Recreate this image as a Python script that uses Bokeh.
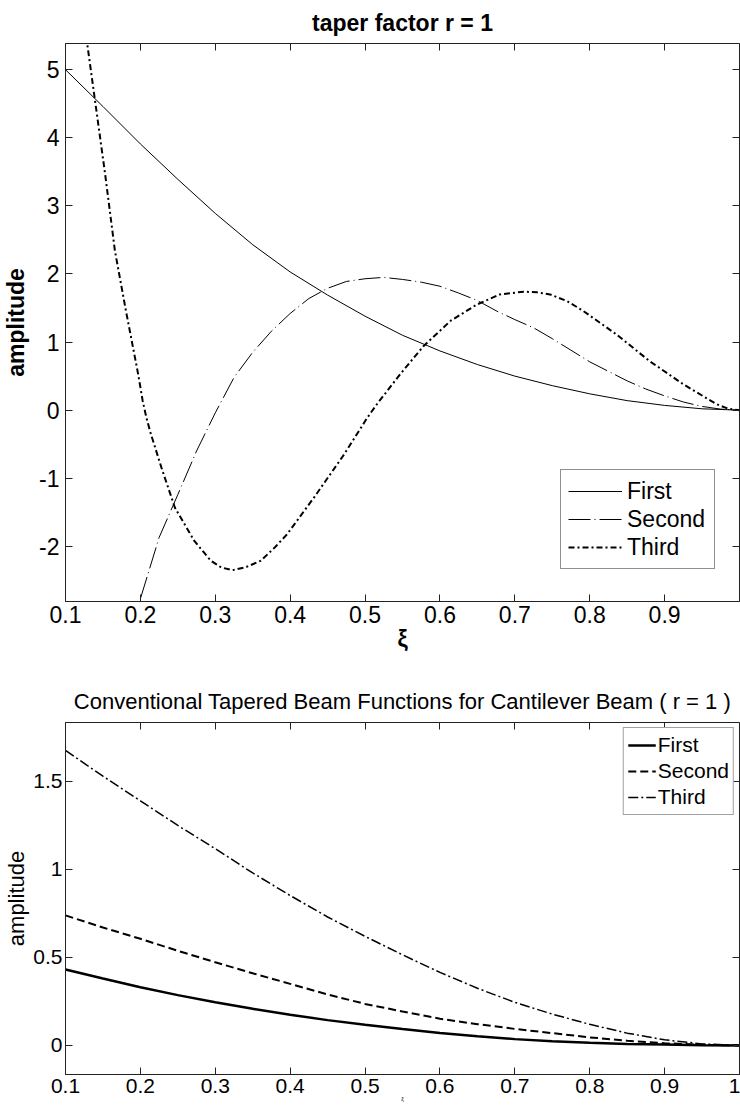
from bokeh.plotting import figure
from bokeh.models import (Range1d, LinearAxis, FixedTicker, CustomJSTickFormatter,
                          Legend, LegendItem)
from bokeh.layouts import column
from bokeh.embed import file_html
from bokeh.resources import INLINE

# ---------------- data: top chart (taper factor r = 1) ----------------
top_first_x = [0.1, 0.15, 0.2, 0.25, 0.3, 0.35, 0.4, 0.45, 0.5, 0.55, 0.6, 0.65,
               0.7, 0.75, 0.8, 0.85, 0.9, 0.95, 1.0]
top_first_y = [5.0, 4.46, 3.91, 3.39, 2.89, 2.43, 2.03, 1.69, 1.38, 1.10, 0.87, 0.67,
               0.50, 0.36, 0.24, 0.14, 0.07, 0.02, 0.0]

top_second_x = [0.19, 0.2, 0.225, 0.25, 0.275, 0.3, 0.325, 0.35, 0.375, 0.4, 0.425,
                0.45, 0.475, 0.5, 0.525, 0.55, 0.575, 0.6, 0.625, 0.65, 0.675, 0.7,
                0.725, 0.75, 0.775, 0.8, 0.825, 0.85, 0.875, 0.9, 0.925, 0.95, 0.975, 1.0]
top_second_y = [-3.2, -2.77, -1.87, -1.24, -0.60, -0.04, 0.48, 0.85, 1.16, 1.42, 1.64,
                1.79, 1.89, 1.93, 1.95, 1.92, 1.88, 1.82, 1.72, 1.61, 1.46, 1.33,
                1.21, 1.05, 0.88, 0.71, 0.57, 0.43, 0.31, 0.21, 0.12, 0.055, 0.015, 0.0]

top_third_x = [0.12, 0.129, 0.139, 0.153, 0.166, 0.18, 0.197, 0.203, 0.208, 0.214,
               0.228, 0.246, 0.272, 0.294, 0.308, 0.323, 0.34, 0.361, 0.38, 0.396,
               0.432, 0.472, 0.503, 0.516, 0.547, 0.578, 0.614, 0.649, 0.68, 0.712,
               0.73, 0.747, 0.77, 0.791, 0.836, 0.88, 0.925, 0.969, 0.985, 1.0]
top_third_y = [6.1, 5.38, 4.58, 3.46, 2.34, 1.50, 0.53, 0.14, -0.11, -0.35,
               -0.84, -1.43, -1.92, -2.21, -2.31, -2.35, -2.31, -2.21, -2.01, -1.82,
               -1.28, -0.65, -0.11, 0.09, 0.53, 0.94, 1.31, 1.55, 1.70, 1.74,
               1.73, 1.70, 1.60, 1.46, 1.11, 0.72, 0.38, 0.09, 0.02, 0.0]

top_xticks = [0.1, 0.2, 0.3, 0.4, 0.5, 0.6, 0.7, 0.8, 0.9]
top_yticks = [-2, -1, 0, 1, 2, 3, 4, 5]

# ---------------- data: bottom chart (conventional functions) ----------------
bot_x = [0.1, 0.15, 0.2, 0.25, 0.3, 0.35, 0.4, 0.45, 0.5, 0.55, 0.6, 0.65, 0.7,
         0.75, 0.8, 0.85, 0.9, 0.95, 1.0]
bot_first = [0.432, 0.38, 0.331, 0.286, 0.246, 0.208, 0.174, 0.144, 0.118, 0.093,
             0.071, 0.052, 0.036, 0.024, 0.015, 0.009, 0.005, 0.001, 0.0]
bot_second = [0.739, 0.67, 0.606, 0.538, 0.473, 0.41, 0.35, 0.29, 0.236, 0.193,
              0.152, 0.121, 0.094, 0.07, 0.046, 0.027, 0.013, 0.004, 0.0]
bot_third = [1.676, 1.53, 1.39, 1.25, 1.118, 0.98, 0.852, 0.73, 0.62, 0.515,
             0.415, 0.325, 0.245, 0.178, 0.12, 0.07, 0.032, 0.009, 0.0]

bot_xticks = [0.1, 0.2, 0.3, 0.4, 0.5, 0.6, 0.7, 0.8, 0.9, 1.0]
bot_yticks = [0, 0.5, 1, 1.5]

series_names = ["First", "Second", "Third"]

FONT = "Liberation Sans"
FRAME = "#222222"


def style_axis(ax, ticks, size, standoff, labels=True):
    ax.ticker = FixedTicker(ticks=ticks)
    ax.major_tick_in = 7
    ax.major_tick_out = 0
    ax.minor_tick_line_color = None
    ax.axis_line_color = FRAME
    ax.major_tick_line_color = FRAME
    ax.major_label_text_font = FONT
    ax.major_label_text_color = "black"
    if labels:
        ax.formatter = CustomJSTickFormatter(code="return String(Number(tick.toFixed(3)));")
        ax.major_label_text_font_size = size
        ax.major_label_standoff = standoff
    else:
        ax.formatter = CustomJSTickFormatter(code="return '';")
        ax.major_label_text_font_size = "0px"
        ax.major_label_standoff = 0


def mirror_axes(p, xticks, yticks, xmax, ymax):
    top = LinearAxis(fixed_location=ymax)
    style_axis(top, xticks, "0px", 0, labels=False)
    right = LinearAxis(fixed_location=xmax)
    style_axis(right, yticks, "0px", 0, labels=False)
    p.add_layout(top, "above")
    p.add_layout(right, "right")


# ================= top figure =================
T_XMIN, T_XMAX, T_YMIN, T_YMAX = 0.1, 1.0, -2.81, 5.385
p1 = figure(width=740, height=657, x_range=Range1d(T_XMIN, T_XMAX),
            y_range=Range1d(T_YMIN, T_YMAX),
            output_backend="svg", toolbar_location=None,
            min_border_left=64, min_border_right=1, min_border_top=42, min_border_bottom=56)
p1.grid.visible = False
p1.outline_line_color = FRAME
p1.title.text = "taper factor r = 1"
p1.title.align = "center"
p1.title.text_font = FONT
p1.title.text_font_size = "23px"
p1.title.text_font_style = "bold"
p1.title.text_color = "black"
p1.title.standoff = 15

style_axis(p1.xaxis[0], top_xticks, "23px", 4)
style_axis(p1.yaxis[0], top_yticks, "23px", 6)
p1.xaxis.axis_label = "ξ"
p1.yaxis.axis_label = "amplitude"
for ax in (p1.xaxis[0], p1.yaxis[0]):
    ax.axis_label_text_font = FONT
    ax.axis_label_text_font_size = "23px"
    ax.axis_label_text_font_style = "bold"
    ax.axis_label_text_color = "black"
p1.xaxis.axis_label_standoff = 0
p1.yaxis.axis_label_standoff = 7
mirror_axes(p1, top_xticks, top_yticks, T_XMAX, T_YMAX)

r1 = p1.line(top_first_x, top_first_y, line_color="black", line_width=1)
r2 = p1.line(top_second_x, top_second_y, line_color="black", line_width=1,
             line_dash="22 4 1 4")
r3 = p1.line(top_third_x, top_third_y, line_color="black", line_width=2,
             line_dash="6 3 2 3")

leg1 = Legend(items=[LegendItem(label=series_names[0], renderers=[r1]),
                     LegendItem(label=series_names[1], renderers=[r2]),
                     LegendItem(label=series_names[2], renderers=[r3])],
              location=(495, 32))
leg1.border_line_color = FRAME
leg1.border_line_width = 1
leg1.background_fill_color = "white"
leg1.background_fill_alpha = 1
leg1.label_text_font = FONT
leg1.label_text_font_size = "23px"
leg1.label_text_color = "black"
leg1.glyph_width = 54
leg1.glyph_height = 28
leg1.label_height = 28
leg1.label_width = 80
leg1.padding = 7
leg1.spacing = 0
leg1.label_standoff = 5
leg1.margin = 0
p1.add_layout(leg1)

# ================= bottom figure =================
B_XMIN, B_XMAX, B_YMIN, B_YMAX = 0.1, 1.0, -0.165, 1.835
p2 = figure(width=740, height=453, x_range=Range1d(B_XMIN, B_XMAX),
            y_range=Range1d(B_YMIN, B_YMAX),
            output_backend="svg", toolbar_location=None,
            min_border_left=64, min_border_right=1, min_border_top=65, min_border_bottom=36)
p2.grid.visible = False
p2.outline_line_color = FRAME
p2.title.text = "Conventional Tapered Beam Functions for Cantilever Beam ( r = 1 )"
p2.title.align = "center"
p2.title.text_font = FONT
p2.title.text_font_size = "22px"
p2.title.text_font_style = "normal"
p2.title.text_color = "black"
p2.title.standoff = 18

style_axis(p2.xaxis[0], bot_xticks, "21px", 4)
style_axis(p2.yaxis[0], bot_yticks, "21px", 3)
p2.xaxis.axis_label = "ξ"
p2.yaxis.axis_label = "amplitude"
p2.xaxis.axis_label_text_font_size = "6px"
p2.yaxis.axis_label_text_font_size = "22px"
for ax in (p2.xaxis[0], p2.yaxis[0]):
    ax.axis_label_text_font = FONT
    ax.axis_label_text_font_style = "normal"
    ax.axis_label_text_color = "black"
p2.xaxis.axis_label_standoff = 0
p2.yaxis.axis_label_standoff = 1
mirror_axes(p2, bot_xticks, bot_yticks, B_XMAX, B_YMAX)

b1 = p2.line(bot_x, bot_first, line_color="black", line_width=2.5)
b2 = p2.line(bot_x, bot_second, line_color="black", line_width=2, line_dash="8 4")
b3 = p2.line(bot_x, bot_third, line_color="black", line_width=1.5, line_dash="10 3 2 3")

leg2 = Legend(items=[LegendItem(label=series_names[0], renderers=[b1]),
                     LegendItem(label=series_names[1], renderers=[b2]),
                     LegendItem(label=series_names[2], renderers=[b3])],
              location="top_right")
leg2.border_line_color = "#444444"
leg2.border_line_width = 1
leg2.background_fill_color = "white"
leg2.background_fill_alpha = 1
leg2.label_text_font = FONT
leg2.label_text_font_size = "21px"
leg2.label_text_color = "black"
leg2.glyph_width = 28
leg2.glyph_height = 26
leg2.label_height = 26
leg2.padding = 4
leg2.spacing = 0
leg2.label_standoff = 2
leg2.margin = 5
p2.add_layout(leg2)

layout = column(p1, p2, spacing=0)
open("out.html", "w").write(file_html(layout, INLINE))
